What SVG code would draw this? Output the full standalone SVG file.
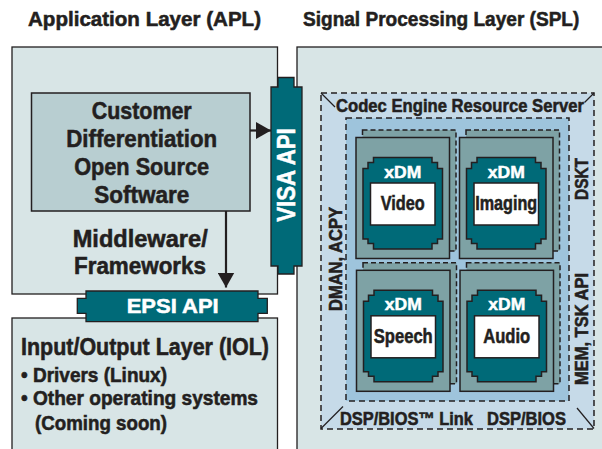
<svg xmlns="http://www.w3.org/2000/svg" xmlns:xlink="http://www.w3.org/1999/xlink" width="602" height="449" viewBox="0 0 602 449">
<style>
text{font-family:"Liberation Sans",Arial,sans-serif;font-weight:bold;fill:#231f20;stroke:#231f20;stroke-width:0.55}
text.w{fill:#ffffff;stroke:#ffffff;stroke-width:0.5}
.layer{fill:#d8e5e6;stroke:#231f20;stroke-width:1.3}
.cust{fill:#b8ced1;stroke:#231f20;stroke-width:1.5}
.api{fill:#006a78;stroke:#231f20;stroke-width:1.3}
.outer{fill:#c6dae8;stroke:#231f20;stroke-width:1.5;stroke-dasharray:6 4}
.inner{fill:#9ec4dc;stroke:#231f20;stroke-width:1.5;stroke-dasharray:6 4}
.card{fill:#7ea2a5;stroke:#231f20;stroke-width:1.5}
.back{fill:#7ea2a5;stroke:#231f20;stroke-width:1.5;stroke-dasharray:5 3}
.xdm{fill:#006a78;stroke:#231f20;stroke-width:1.5}
.lbl{fill:#ffffff;stroke:#231f20;stroke-width:1.5}
.conn{stroke:#231f20;stroke-width:2.2;fill:none}
.diag{stroke:#231f20;stroke-width:1.2;fill:none}
</style>
<defs>
<marker id="ah" viewBox="0 0 15 17" refX="15" refY="8.5" markerWidth="15" markerHeight="17" markerUnits="userSpaceOnUse" orient="auto">
<path d="M0,0 L15,8.5 L0,17 Z" fill="#231f20"/>
</marker>
<g id="codec">
<rect class="back" x="6.5" y="-7.5" width="93.5" height="121"/>
<rect class="card" x="0" y="0" width="93.5" height="121"/>
<polygon class="xdm" points="17.5,20 76,20 76,25 81.5,25 81.5,31 86.5,31 86.5,101.5 81.5,101.5 81.5,106 76,106 76,111.5 17.5,111.5 17.5,106 12,106 12,101.5 7,101.5 7,31 12,31 12,25 17.5,25"/>
<rect class="lbl" x="14.5" y="45.5" width="64.5" height="42"/>
</g>
</defs>
<rect x="0" y="0" width="602" height="449" fill="#ffffff"/>

<text x="28" y="26" font-size="20.5" textLength="233" lengthAdjust="spacingAndGlyphs">Application Layer (APL)</text>
<text transform="translate(303,26) scale(0.93,1)" font-size="20.5">Signal Processing Layer (SPL)</text>

<g id="apl">
<rect class="layer" x="12" y="47" width="265.5" height="247"/>
<text x="72.7" y="246.7" font-size="24" textLength="135" lengthAdjust="spacingAndGlyphs">Middleware/</text>
<text x="74" y="274" font-size="24" textLength="132" lengthAdjust="spacingAndGlyphs">Frameworks</text>
</g>

<g id="spl">
<rect class="layer" x="297" y="47" width="330" height="430"/>
</g>

<g id="iol">
<rect class="layer" x="12" y="318" width="265.5" height="150"/>
<text x="21" y="355" font-size="24" textLength="248" lengthAdjust="spacingAndGlyphs">Input/Output Layer (IOL)</text>
<text x="21" y="382" font-size="20" textLength="146" lengthAdjust="spacingAndGlyphs">• Drivers (Linux)</text>
<text x="21" y="405" font-size="20" textLength="237" lengthAdjust="spacingAndGlyphs">• Other operating systems</text>
<text x="35" y="430" font-size="20" textLength="132" lengthAdjust="spacingAndGlyphs">(Coming soon)</text>
</g>

<g id="customer">
<rect class="cust" x="31.5" y="93" width="218.5" height="118"/>
<text x="141.7" y="118.5" font-size="24" text-anchor="middle" textLength="100" lengthAdjust="spacingAndGlyphs">Customer</text>
<text x="141.7" y="146.5" font-size="24" text-anchor="middle" textLength="151" lengthAdjust="spacingAndGlyphs">Differentiation</text>
<text x="141.7" y="175" font-size="24" text-anchor="middle" textLength="135" lengthAdjust="spacingAndGlyphs">Open Source</text>
<text x="141.7" y="203" font-size="24" text-anchor="middle" textLength="95" lengthAdjust="spacingAndGlyphs">Software</text>
</g>

<g id="codec-engine">
<rect class="outer" x="321" y="93" width="273" height="336"/>
<line class="diag" x1="321" y1="93" x2="335" y2="107"/>
<line class="diag" x1="594" y1="93" x2="584.5" y2="102.5"/>
<line class="diag" x1="321" y1="428.5" x2="343" y2="406.5"/>
<line class="diag" x1="594" y1="428.5" x2="577" y2="408"/>
<text transform="translate(336,112) scale(0.876,1)" font-size="19">Codec Engine Resource Server</text>
<text x="340" y="425" font-size="18" textLength="133" lengthAdjust="spacingAndGlyphs">DSP/BIOS™ Link</text>
<text x="487" y="425" font-size="18" textLength="79" lengthAdjust="spacingAndGlyphs">DSP/BIOS</text>
<text transform="translate(341.5,259) rotate(-90)" font-size="19" text-anchor="middle" textLength="104" lengthAdjust="spacingAndGlyphs">DMAN, ACPY</text>
<text transform="translate(588,179) rotate(-90)" font-size="18" text-anchor="middle" textLength="42" lengthAdjust="spacingAndGlyphs">DSKT</text>
<text transform="translate(588,329) rotate(-90)" font-size="18" text-anchor="middle" textLength="112" lengthAdjust="spacingAndGlyphs">MEM, TSK API</text>
<rect class="inner" x="346" y="118" width="223" height="283"/>
</g>

<g id="video">
<use xlink:href="#codec" href="#codec" transform="translate(356,137.5)"/>
<text class="w" x="402.75" y="177.5" font-size="17" text-anchor="middle" textLength="37" lengthAdjust="spacingAndGlyphs">xDM</text>
<text x="402.75" y="209.5" font-size="20" text-anchor="middle" textLength="44" lengthAdjust="spacingAndGlyphs">Video</text>
</g>
<g id="imaging">
<use xlink:href="#codec" href="#codec" transform="translate(459.5,137.5)"/>
<text class="w" x="506.25" y="177.5" font-size="17" text-anchor="middle" textLength="37" lengthAdjust="spacingAndGlyphs">xDM</text>
<text x="506.25" y="209.5" font-size="20" text-anchor="middle" textLength="62" lengthAdjust="spacingAndGlyphs">Imaging</text>
</g>
<g id="speech">
<use xlink:href="#codec" href="#codec" transform="translate(356.5,270.3)"/>
<text class="w" x="403.25" y="309.5" font-size="17" text-anchor="middle" textLength="37" lengthAdjust="spacingAndGlyphs">xDM</text>
<text x="403.25" y="342.7" font-size="20" text-anchor="middle" textLength="59" lengthAdjust="spacingAndGlyphs">Speech</text>
</g>
<g id="audio">
<use xlink:href="#codec" href="#codec" transform="translate(460,270.3)"/>
<text class="w" x="506.75" y="309.5" font-size="17" text-anchor="middle" textLength="37" lengthAdjust="spacingAndGlyphs">xDM</text>
<text x="506.75" y="342.7" font-size="20" text-anchor="middle" textLength="47" lengthAdjust="spacingAndGlyphs">Audio</text>
</g>

<g id="visa-api">
<polygon class="api" points="278,77.5 294,77.5 294,87 302,87 302,266 294,266 294,274 278,274 278,266 271,266 271,87 278,87"/>
<text class="w" transform="translate(294.5,175) rotate(-90)" font-size="26" text-anchor="middle" textLength="93.5" lengthAdjust="spacingAndGlyphs">VISA API</text>
</g>

<g id="epsi-api">
<polygon class="api" points="86,291 258,291 258,298.3 267.3,298.3 267.3,313.3 258,313.3 258,321.7 86,321.7 86,313.3 77.3,313.3 77.3,298.3 86,298.3"/>
<text class="w" x="126.7" y="313.3" font-size="20" textLength="92" lengthAdjust="spacingAndGlyphs">EPSI API</text>
</g>

<g id="connectors">
<line class="conn" x1="250" y1="130.5" x2="271" y2="130.5" marker-end="url(#ah)"/>
<line class="conn" x1="226" y1="211" x2="226" y2="287.5" marker-end="url(#ah)"/>
</g>
</svg>
